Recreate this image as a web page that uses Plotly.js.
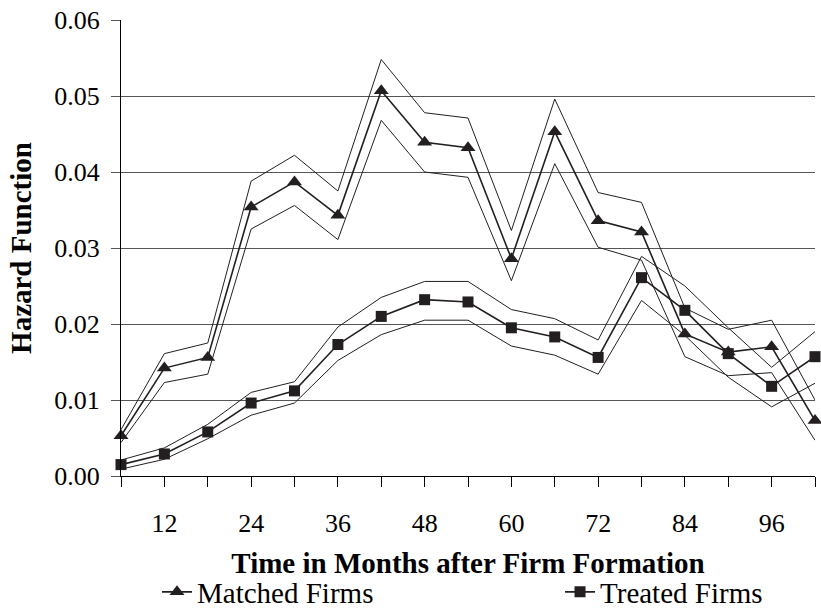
<!DOCTYPE html>
<html><head><meta charset="utf-8">
<script src="https://cdn.plot.ly/plotly-3.0.1.min.js"></script>
<style>html,body{margin:0;padding:0;background:#fff}</style>
</head><body><div id="chart" style="width:821px;height:610px"></div>
<script>
const months = [6, 12, 18, 24, 30, 36, 42, 48, 54, 60, 66, 72, 78, 84, 90, 96, 102];
const tickLabels = ['', '12', '', '24', '', '36', '', '48', '', '60', '', '72', '', '84', '', '96', ''];
const yTicks = [0, 0.01, 0.02, 0.03, 0.04, 0.05, 0.06];

const matched      = [0.0053, 0.0142, 0.0156, 0.0354, 0.0387, 0.0343, 0.0507, 0.0439, 0.0432, 0.0286, 0.0453, 0.0336, 0.0321, 0.0187, 0.0163, 0.0170, 0.0073];
const matchedUpper = [0.0061, 0.0161, 0.0175, 0.0388, 0.0422, 0.0375, 0.0548, 0.0478, 0.0471, 0.0323, 0.0496, 0.0373, 0.0360, 0.0221, 0.0193, 0.0205, 0.0100];
const matchedLower = [0.0044, 0.0123, 0.0134, 0.0325, 0.0356, 0.0311, 0.0468, 0.0400, 0.0393, 0.0257, 0.0411, 0.0301, 0.0284, 0.0157, 0.0132, 0.0136, 0.0047];

const treated      = [0.0015, 0.0029, 0.0058, 0.0096, 0.0112, 0.0173, 0.0210, 0.0232, 0.0229, 0.0195, 0.0183, 0.0156, 0.0261, 0.0218, 0.0161, 0.0118, 0.0157];
const treatedUpper = [0.0021, 0.0037, 0.0068, 0.0110, 0.0124, 0.0196, 0.0235, 0.0256, 0.0256, 0.0219, 0.0207, 0.0179, 0.0289, 0.0250, 0.0195, 0.0143, 0.0190];
const treatedLower = [0.0009, 0.0022, 0.0049, 0.0080, 0.0096, 0.0152, 0.0186, 0.0205, 0.0205, 0.0171, 0.0159, 0.0134, 0.0231, 0.0185, 0.0130, 0.0091, 0.0122];

const ink = '#231f20';
const serif = "'Liberation Serif', 'Times New Roman', 'DejaVu Serif', serif";

function band(y) {
  return {x: months, y: y, type: 'scatter', mode: 'lines', showlegend: false, hoverinfo: 'skip',
          line: {color: ink, width: 1}, cliponaxis: false};
}

const data = [
  band(matchedUpper), band(matchedLower), band(treatedUpper), band(treatedLower),
  {x: months, y: matched, type: 'scatter', mode: 'lines+markers', name: 'Matched Firms', legend: 'legend',
   line: {color: ink, width: 1.6}, marker: {symbol: 'triangle-up', size: 13, color: ink}, cliponaxis: false},
  {x: months, y: treated, type: 'scatter', mode: 'lines+markers', name: 'Treated Firms', legend: 'legend2',
   line: {color: ink, width: 1.6}, marker: {symbol: 'square', size: 11, color: ink}, cliponaxis: false}
];

const legendFont = {family: serif, size: 29, color: '#000'};

const layout = {
  width: 821, height: 610,
  margin: {l: 121, r: 6, t: 20, b: 134, autoexpand: false},
  paper_bgcolor: '#fff', plot_bgcolor: '#fff',
  font: {family: serif, color: '#000'},
  xaxis: {
    range: [6, 102], tickmode: 'array', tickvals: months, ticktext: tickLabels,
    ticks: 'outside', ticklen: 10, tickcolor: '#000', tickwidth: 1,
    showline: true, linecolor: '#000', linewidth: 1,
    showgrid: false, zeroline: false,
    tickfont: {family: serif, size: 26, color: '#000'},
    ticklabelstandoff: 14,
    title: {text: 'Time in Months after Firm Formation', standoff: 15,
            font: {family: serif, size: 29, weight: 'bold', color: '#000'}}
  },
  yaxis: {
    range: [0, 0.06], tickmode: 'array', tickvals: yTicks, tickformat: '.2f',
    ticks: 'outside', ticklen: 9, tickcolor: '#555', tickwidth: 1,
    showline: true, linecolor: '#000', linewidth: 1,
    showgrid: true, gridcolor: '#555', gridwidth: 1, zeroline: false,
    tickfont: {family: serif, size: 26, color: '#000'},
    ticklabelstandoff: 6,
    title: {text: 'Hazard Function', standoff: 14,
            font: {family: serif, size: 29, weight: 'bold', color: '#000'}}
  },
  showlegend: true,
  legend: {
    orientation: 'h', x: 0.0519, xanchor: 'left', y: -0.2544, yanchor: 'middle',
    font: legendFont, bgcolor: 'rgba(0,0,0,0)', borderwidth: 0
  },
  legend2: {
    orientation: 'h', x: 0.6326, xanchor: 'left', y: -0.2544, yanchor: 'middle',
    font: legendFont, bgcolor: 'rgba(0,0,0,0)', borderwidth: 0
  },
  hovermode: false
};

Plotly.newPlot('chart', data, layout, {displayModeBar: false, staticPlot: true});
</script>
</body></html>
